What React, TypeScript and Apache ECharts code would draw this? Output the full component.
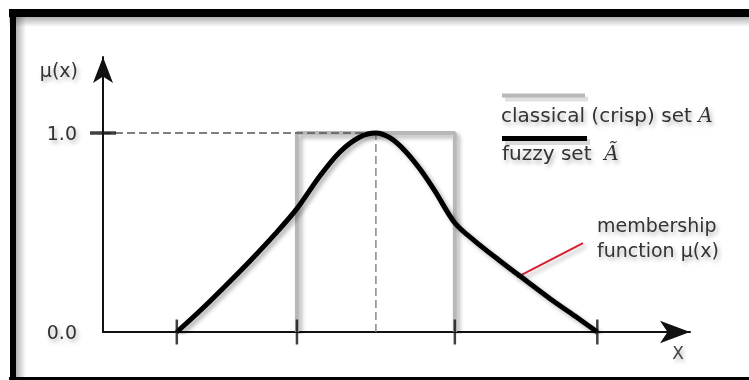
import React, { useEffect, useRef } from "react";
import * as echarts from "echarts";

// Fuzzy membership function (x in arbitrary units, y = membership degree)
const fuzzyX = [12.9, 17.0, 21.3, 25.7, 30.1, 33.9, 37.9, 41.4, 44.9, 47.7, 50.2, 52.8, 55.4, 58.0, 61.5, 65.0, 69.4, 73.8, 78.2, 82.5, 86.4];
const fuzzyY = [0, 0.108, 0.229, 0.357, 0.493, 0.62, 0.784, 0.905, 0.98, 1.0, 0.975, 0.91, 0.819, 0.709, 0.548, 0.457, 0.357, 0.261, 0.166, 0.08, 0];

// Classical (crisp) set boundaries
const crispX = [33.9, 33.9, 61.5, 61.5];
const crispY = [0, 1, 1, 0];

// Marks on x axis
const xTicks = [12.9, 33.9, 61.5, 86.4];
const peakX = 47.7;
const yTickValues = [0, 1];

// Annotation pointer (membership function label)
const pointerX = [72.4, 83.9];
const pointerY = [0.276, 0.447];

const FONT = "DejaVu Sans";
const shadow = { shadowColor: "rgba(0,0,0,0.3)", shadowBlur: 4, shadowOffsetX: 3, shadowOffsetY: 3 };
const textShadow = { textShadowColor: "rgba(0,0,0,0.3)", textShadowBlur: 4, textShadowOffsetX: 2, textShadowOffsetY: 3 };

export default function App() {
  const ref = useRef<HTMLDivElement>(null);
  useEffect(() => {
    if (!ref.current) return;
    const chart = echarts.init(ref.current, null, { renderer: "svg" });
    const zip = (xs: number[], ys: number[]) => xs.map((x, i) => [x, ys[i]]);
    chart.setOption({
      animation: false,
      backgroundColor: "#ffffff",
      grid: { left: 103, right: 59, top: 57, bottom: 48 },
      xAxis: {
        type: "value",
        min: 0,
        max: 102.6,
        axisLine: {
          show: true,
          symbol: ["none", "arrow"],
          symbolSize: [17, 30],
          lineStyle: { color: "#111", width: 2 },
        },
        axisTick: { show: false },
        axisLabel: { show: false },
        splitLine: { show: false },
      },
      yAxis: {
        type: "value",
        min: 0,
        max: 1.382,
        interval: 1,
        axisLine: {
          show: true,
          symbol: ["none", "arrow"],
          symbolSize: [15, 26],
          lineStyle: { color: "#111", width: 2 },
        },
        axisTick: { show: false },
        axisLabel: {
          margin: 26,
          fontSize: 19,
          fontFamily: FONT,
          color: "#333",
          formatter: (v: number) => (yTickValues.includes(v) ? v.toFixed(1) : ""),
          ...textShadow,
        },
        splitLine: { show: false },
      },
      series: [
        {
          type: "line",
          data: zip(crispX, crispY),
          symbol: "none",
          lineStyle: { color: "#b8b8b8", width: 4, ...shadow },
          z: 2,
        },
        {
          type: "line",
          data: [[0, 1], [peakX, 1]],
          symbol: "none",
          lineStyle: { color: "#555", width: 1.5, type: [8, 4] },
          z: 3,
        },
        {
          type: "line",
          data: [[peakX, 0], [peakX, 1]],
          symbol: "none",
          lineStyle: { color: "#888", width: 1.5, type: [8, 4] },
          z: 3,
        },
        {
          type: "line",
          data: zip(pointerX, pointerY),
          symbol: "none",
          lineStyle: { color: "#d42030", width: 2, ...shadow },
          z: 3,
        },
        {
          type: "line",
          data: zip(fuzzyX, fuzzyY),
          symbol: "none",
          smooth: 0.3,
          lineStyle: { color: "#000", width: 5, ...shadow },
          z: 4,
        },
        {
          type: "scatter",
          data: xTicks.map((x) => [x, 0]),
          symbol: "rect",
          symbolSize: [2.5, 25],
          itemStyle: { color: "#111" },
          clip: false,
          z: 5,
        },
        {
          type: "scatter",
          data: [[0, 1]],
          symbol: "rect",
          symbolSize: [26, 3.5],
          itemStyle: { color: "#111" },
          clip: false,
          z: 5,
        },
      ],
      graphic: [
        // frame
        { type: "rect", shape: { x: 9, y: 17, width: 740, height: 10 }, style: { fill: new echarts.graphic.LinearGradient(0, 0, 0, 1, [{ offset: 0, color: "rgba(0,0,0,0.3)" }, { offset: 1, color: "rgba(0,0,0,0)" }]) }, z: 1 },
        { type: "rect", shape: { x: 16, y: 9, width: 10, height: 371 }, style: { fill: new echarts.graphic.LinearGradient(0, 0, 1, 0, [{ offset: 0, color: "rgba(0,0,0,0.3)" }, { offset: 1, color: "rgba(0,0,0,0)" }]) }, z: 1 },
        { type: "rect", shape: { x: 9, y: 9, width: 740, height: 8 }, style: { fill: "#000" }, z: 10 },
        { type: "rect", shape: { x: 10, y: 9, width: 6, height: 371 }, style: { fill: "#000" }, z: 10 },
        { type: "rect", shape: { x: 9, y: 377, width: 740, height: 3 }, style: { fill: "#000" }, z: 10 },
        // y axis title
        { type: "text", x: 78, y: 70, style: { text: "μ(x)", fontSize: 19, fontFamily: FONT, fill: "#333", align: "right", verticalAlign: "middle", ...textShadow }, z: 10 },
        // x axis title
        { type: "text", x: 678, y: 353, style: { text: "X", fontSize: 17, fontFamily: FONT, fill: "#444", align: "center", verticalAlign: "middle", ...textShadow }, z: 10 },
        // legend
        { type: "line", shape: { x1: 505, y1: 99, x2: 588, y2: 99 }, style: { stroke: "rgba(0,0,0,0.12)", lineWidth: 5 }, z: 9 },
        { type: "line", shape: { x1: 502, y1: 95.5, x2: 585, y2: 95.5 }, style: { stroke: "#b8b8b8", lineWidth: 4 }, z: 10 },
        {
          type: "text", x: 501, y: 115,
          style: {
            text: "{n|classical (crisp) set }{m|A}",
            verticalAlign: "middle",
            rich: {
              n: { fontSize: 20, fontFamily: FONT, fill: "#333", ...textShadow },
              m: { fontSize: 20, fontFamily: "DejaVu Serif", fontStyle: "italic", fill: "#333", ...textShadow },
            },
          },
          z: 10,
        },
        { type: "line", shape: { x1: 505, y1: 142, x2: 590, y2: 142 }, style: { stroke: "rgba(0,0,0,0.15)", lineWidth: 6 }, z: 9 },
        { type: "line", shape: { x1: 502, y1: 138.5, x2: 587, y2: 138.5 }, style: { stroke: "#000", lineWidth: 5 }, z: 10 },
        {
          type: "text", x: 502, y: 153,
          style: {
            text: "{n|fuzzy set  }{m|Ã}",
            verticalAlign: "middle",
            rich: {
              n: { fontSize: 20, fontFamily: FONT, fill: "#333", ...textShadow },
              m: { fontSize: 20, fontFamily: "DejaVu Serif", fontStyle: "italic", fill: "#333", ...textShadow },
            },
          },
          z: 10,
        },
        // annotation
        { type: "text", x: 597, y: 225, style: { text: "membership", fontSize: 19, fontFamily: FONT, fill: "#333", verticalAlign: "middle", ...textShadow }, z: 10 },
        { type: "text", x: 597, y: 250, style: { text: "function μ(x)", fontSize: 19, fontFamily: FONT, fill: "#333", verticalAlign: "middle", ...textShadow }, z: 10 },
      ],
    });
    return () => chart.dispose();
  }, []);
  return <div ref={ref} style={{ position: "fixed", left: 0, top: 0, width: 749, height: 380 }} />;
}
